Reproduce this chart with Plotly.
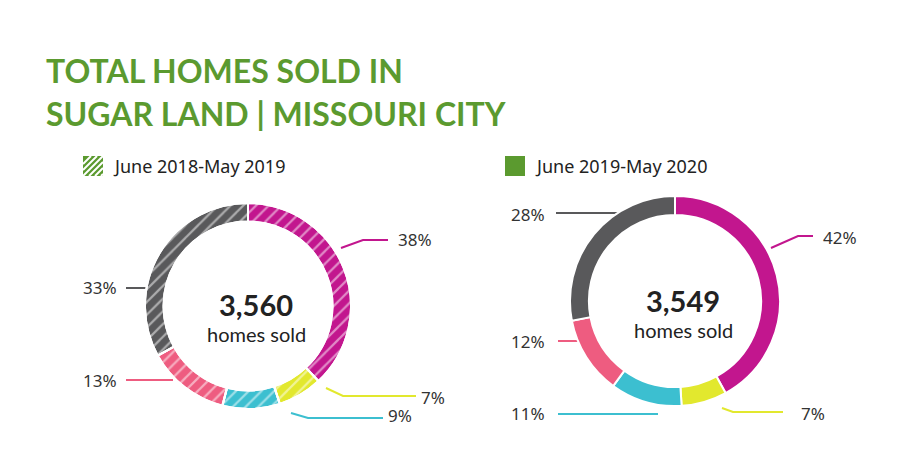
import plotly.graph_objects as go

# data
segments = ["Magenta", "Yellow", "Cyan", "Pink", "Gray"]
colors = ["#C2168E", "#E2E82E", "#3CBFD0", "#EE5C80", "#59595B"]
share_2019 = [38, 7, 9, 13, 33]
share_2020 = [42, 7, 11, 12, 28]
totals = ["3,560", "3,549"]
periods = ["June 2018-May 2019", "June 2019-May 2020"]

W, H = 900, 467
green = "#5B9A2F"
DX, DY = -8, -12  # render offset correction


def px(x, y):
    return x / W, 1 - y / H


left_dom = dict(x=[(145 + DX) / W, (351 + DX) / W], y=[1 - (413 + DY) / H, 1 - (207 + DY) / H])
right_dom = dict(x=[(570 + DX) / W, (780 + DX) / W], y=[1 - (410 + DY) / H, 1 - (200 + DY) / H])

fig = go.Figure()
fig.add_trace(go.Pie(
    values=share_2019, labels=segments, sort=False, direction="clockwise",
    rotation=0, hole=0.82, textinfo="none", hoverinfo="label+percent",
    marker=dict(colors=colors, line=dict(color="white", width=2)),
    domain=left_dom,
))
fig.add_trace(go.Pie(
    values=share_2019, labels=segments, sort=False, direction="clockwise",
    rotation=0, hole=0.82, textinfo="none", hoverinfo="skip",
    marker=dict(colors=["rgba(0,0,0,0)"] * 5, line=dict(color="white", width=2),
                pattern=dict(shape="/", fgcolor="white", bgcolor="rgba(0,0,0,0)",
                             fillmode="overlay", size=9, solidity=0.25)),
    domain=left_dom,
))
fig.add_trace(go.Pie(
    values=share_2020, labels=segments, sort=False, direction="clockwise",
    rotation=0, hole=0.82, textinfo="none", hoverinfo="label+percent",
    marker=dict(colors=colors, line=dict(color="white", width=2)),
    domain=right_dom,
))

# centre labels
for (cx, cy), tot in zip([(248, 310), (675, 306)], totals):
    x, y = px(cx, cy - 14)
    fig.add_annotation(x=x, y=y, text=f"<b>{tot}</b>", showarrow=False,
                       font=dict(family="Lato", size=29, color="#222"))
    x, y = px(cx, cy + 16)
    fig.add_annotation(x=x, y=y, text="homes sold", showarrow=False,
                       font=dict(family="Lato", size=20, color="#222"))

# leader lines: (points in px), label position, text, colour
leaders = [
    ([(333, 240), (355, 232), (380, 232)], (407, 231), "38%", colors[0]),
    ([(318, 380), (335, 388), (408, 388)], (425, 389), "7%", colors[1]),
    ([(283, 405), (300, 410), (375, 410)], (392, 407), "9%", colors[2]),
    ([(165, 372), (118, 372)], (92, 372), "13%", colors[3]),
    ([(150, 280), (118, 280)], (92, 279), "33%", colors[4]),
    ([(763, 240), (790, 228), (805, 228)], (832, 229), "42%", colors[0]),
    ([(714, 400), (725, 404), (775, 404)], (805, 405), "7%", colors[1]),
    ([(650, 406), (550, 406)], (520, 405), "11%", colors[2]),
    ([(585, 333), (550, 333)], (520, 333), "12%", colors[3]),
    ([(630, 208), (620, 205), (548, 205)], (520, 206), "28%", colors[4]),
]
for pts, (tx, ty), txt, col in leaders:
    xs = [px(a, b)[0] for a, b in pts]
    ys = [px(a, b)[1] for a, b in pts]
    fig.add_trace(go.Scatter(x=xs, y=ys, mode="lines", xaxis="x", yaxis="y",
                             line=dict(color=col, width=2), hoverinfo="skip"))
    x, y = px(tx, ty)
    fig.add_annotation(x=x, y=y, text=txt, showarrow=False,
                       font=dict(family="Noto Sans", size=17, color="#333"))

# title
for i, line in enumerate(["TOTAL HOMES SOLD IN", "SUGAR LAND | MISSOURI CITY"]):
    x, y = px(36, 62 + 43 * i)
    fig.add_annotation(x=x, y=y, xanchor="left", text=f"<b>{line}</b>", showarrow=False,
                       font=dict(family="Lato", size=32, color=green))

# legend
for (lx, ly), label, hatched in zip([(75, 148), (497, 148)], periods, [True, False]):
    x0, y1 = px(lx, ly)
    x1, y0 = px(lx + 20, ly + 20)
    fig.add_shape(type="rect", x0=x0, x1=x1, y0=y0, y1=y1, xref="paper", yref="paper",
                  fillcolor=green, line=dict(width=0))
    if hatched:
        for k in range(-12, 20, 6):
            a = max(k, 0); b = min(k + 20, 20)
            sx, sy = px(lx + a, ly + 20 - (a - k))
            ex, ey = px(lx + b, ly + 20 - (b - k))
            fig.add_shape(type="line", x0=sx, y0=sy, x1=ex, y1=ey, xref="paper", yref="paper",
                          line=dict(color="white", width=2))
    x, y = px(lx + 28, ly + 10)
    fig.add_annotation(x=x, y=y, xanchor="left", text=label, showarrow=False,
                       font=dict(family="Noto Sans", size=18, color="#222"))

fig.update_layout(
    width=W, height=H, margin=dict(l=0, r=0, t=0, b=0),
    paper_bgcolor="white", plot_bgcolor="rgba(0,0,0,0)", showlegend=False,
    xaxis=dict(range=[0, 1], visible=False, domain=[0, 1]),
    yaxis=dict(range=[0, 1], visible=False, domain=[0, 1]),
)
fig.write_html("out.html")
